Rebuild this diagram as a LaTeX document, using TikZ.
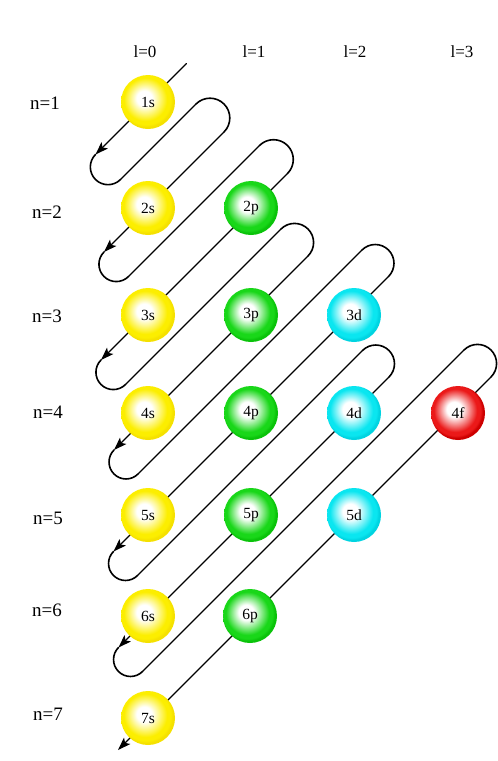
\documentclass[tikz,border=0pt]{standalone}
\usepackage{fontspec}
\setmainfont{Liberation Serif}
\usetikzlibrary{arrows.meta}
\definecolor{ballY}{RGB}{252,238,0}
\definecolor{ballYd}{RGB}{245,225,0}
\definecolor{ballG}{RGB}{25,215,25}
\definecolor{ballGd}{RGB}{10,195,10}
\definecolor{ballC}{RGB}{10,230,240}
\definecolor{ballCd}{RGB}{0,212,225}
\definecolor{ballR}{RGB}{235,25,25}
\definecolor{ballRd}{RGB}{205,0,0}
\pgfdeclareradialshading{shY}{\pgfpoint{-4bp}{4bp}}{color(0bp)=(white); color(7bp)=(white); color(20bp)=(ballY); color(23bp)=(ballY); color(25bp)=(ballYd); color(50bp)=(ballYd)}
\pgfdeclareradialshading{shG}{\pgfpoint{-4bp}{4bp}}{color(0bp)=(white); color(7bp)=(white); color(20bp)=(ballG); color(23bp)=(ballG); color(25bp)=(ballGd); color(50bp)=(ballGd)}
\pgfdeclareradialshading{shC}{\pgfpoint{-4bp}{4bp}}{color(0bp)=(white); color(7bp)=(white); color(20bp)=(ballC); color(23bp)=(ballC); color(25bp)=(ballCd); color(50bp)=(ballCd)}
\pgfdeclareradialshading{shR}{\pgfpoint{-4bp}{4bp}}{color(0bp)=(white); color(7bp)=(white); color(20bp)=(ballR); color(23bp)=(ballR); color(25bp)=(ballRd); color(50bp)=(ballRd)}
\tikzset{
  orb/.style={circle, minimum size=54pt, inner sep=0pt, font=\fontsize{15.5}{16}\selectfont},
  orbY/.style={orb, shade, shading=shY},
  orbG/.style={orb, shade, shading=shG},
  orbC/.style={orb, shade, shading=shC},
  orbR/.style={orb, shade, shading=shR},
  llab/.style={inner sep=0pt, font=\fontsize{17}{17}\selectfont},
  nlab/.style={inner sep=0pt, font=\fontsize{19}{19}\selectfont},
  wire/.style={line width=1.1pt, line cap=round},
  tipped/.style={wire, -{Stealth[length=13pt,width=9pt,inset=3pt]}},
  uturn/.style={line width=1.6pt, line cap=round},
}
\begin{document}
\begin{tikzpicture}[x=1pt,y=-1pt]
\useasboundingbox (0,0) rectangle (498,761);
% path points
\coordinate (t0) at (186.5,63.5);
\coordinate (b0) at (95.5,154.5);
\coordinate (t1) at (224,132);
\coordinate (b1) at (104,252);
\coordinate (t2) at (287.5,173.5);
\coordinate (b2) at (101,360);
\coordinate (t3) at (308,256);
\coordinate (b3) at (114,450);
\coordinate (t4) at (388.5,276.5);
\coordinate (b4) at (113.5,551.5);
\coordinate (t5) at (389,377);
\coordinate (b5) at (118.5,647.5);
\coordinate (t6) at (491,377);
\coordinate (b6) at (118,750);
% return lines: start (after bottom turn) and end (before top turn)
\coordinate (r0a) at (120.5,179.5); \coordinate (r0b) at (196,104);
\coordinate (r1a) at (128.5,276.5); \coordinate (r1b) at (259.5,145.5);
\coordinate (r2a) at (125.5,384.5); \coordinate (r2b) at (281,229);
\coordinate (r3a) at (138,474);     \coordinate (r3b) at (362,250);
\coordinate (r4a) at (137.5,575.5); \coordinate (r4b) at (362.5,350.5);
\coordinate (r5a) at (142.5,671.5); \coordinate (r5b) at (464,350);
% diagonals
\foreach \k in {0,...,6} { \draw[tipped] (t\k) -- (b\k); }
% return lines
\foreach \k in {0,...,5} { \draw[wire] (r\k a) -- (r\k b); }
% bottom-left turns
\draw[uturn] (b0) arc[start angle=225,end angle=45,radius=17.68];
\draw[uturn] (b1) arc[start angle=225,end angle=45,radius=17.32];
\draw[uturn] (b2) arc[start angle=225,end angle=45,radius=17.32];
\draw[uturn] (b3) arc[start angle=225,end angle=45,radius=16.97];
\draw[uturn] (b4) arc[start angle=225,end angle=45,radius=16.97];
\draw[uturn] (b5) arc[start angle=225,end angle=45,radius=16.97];
% top-right turns
\draw[uturn] (r0b) arc[start angle=225,end angle=405,radius=19.8];
\draw[uturn] (r1b) arc[start angle=225,end angle=405,radius=19.8];
\draw[uturn] (r2b) arc[start angle=225,end angle=405,radius=19.09];
\draw[uturn] (r3b) arc[start angle=225,end angle=405,radius=18.74];
\draw[uturn] (r4b) arc[start angle=225,end angle=405,radius=18.74];
\draw[uturn] (r5b) arc[start angle=225,end angle=405,radius=19.09];
% orbitals
\node[orbY] (s1) at (148,102) {1s};
\node[orbY] (s2) at (148,208) {2s};
\node[orbY] (s3) at (148,315) {3s};
\node[orbY] (s4) at (148,413) {4s};
\node[orbY] (s5) at (148,515) {5s};
\node[orbY] (s6) at (148,616) {6s};
\node[orbY] (s7) at (148,718) {7s};
\node[orbG] (p2) at (251,208) {2p};
\node[orbG] (p3) at (251,315) {3p};
\node[orbG] (p4) at (251,413) {4p};
\node[orbG] (p5) at (251,515) {5p};
\node[orbG] (p6) at (250,616) {6p};
\node[orbC] (d3) at (354,315) {3d};
\node[orbC] (d4) at (354,413) {4d};
\node[orbC] (d5) at (354,515) {5d};
\node[orbR] (f4) at (458,413) {4f};
% labels
\node[llab] (l0) at (145,52) {l=0};
\node[llab] (l1) at (254,52) {l=1};
\node[llab] (l2) at (355,52) {l=2};
\node[llab] (l3) at (462,52) {l=3};
\node[nlab] (n1) at (45,103) {n=1};
\node[nlab] (n2) at (47,212) {n=2};
\node[nlab] (n3) at (47,316) {n=3};
\node[nlab] (n4) at (48,412) {n=4};
\node[nlab] (n5) at (48,518) {n=5};
\node[nlab] (n6) at (47,610) {n=6};
\node[nlab] (n7) at (48,714) {n=7};
\end{tikzpicture}
\end{document}
